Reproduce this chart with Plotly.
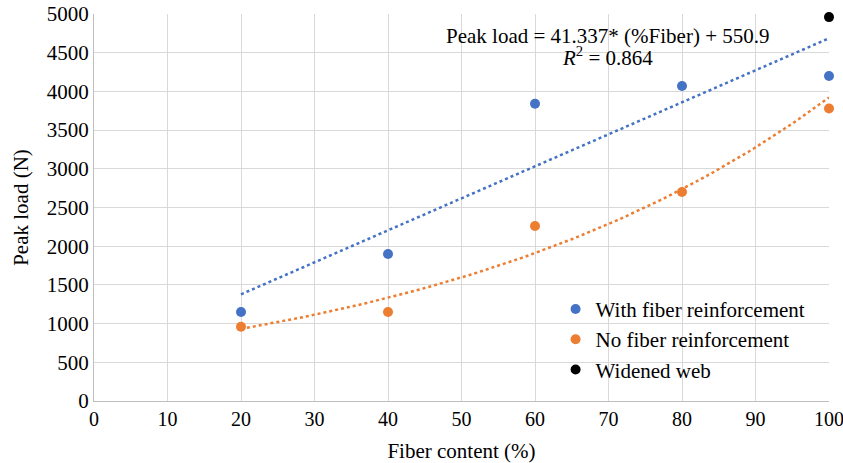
import numpy as np
import plotly.graph_objects as go

fiber = [20, 40, 60, 80, 100]
with_fiber = [1150, 1900, 3840, 4070, 4200]
no_fiber = [960, 1150, 2260, 2700, 3780]
widened_x = [100]
widened_y = [4960]

BLUE = "#4472C4"
ORANGE = "#ED7D31"
FONT = "Liberation Serif"

# trendlines fitted from the data
xs = np.linspace(20, 100, 81)
m, b = np.polyfit(fiber, with_fiber, 1)
lin = m * xs + b
k, c = np.polyfit(fiber, np.log(no_fiber), 1)
expo = np.exp(c + k * xs)

fig = go.Figure()
fig.add_trace(go.Scatter(x=xs, y=lin, mode="lines", showlegend=False,
                         line=dict(color=BLUE, width=2.5, dash="dot"), hoverinfo="skip"))
fig.add_trace(go.Scatter(x=xs, y=expo, mode="lines", showlegend=False,
                         line=dict(color=ORANGE, width=2.5, dash="dot"), hoverinfo="skip"))
fig.add_trace(go.Scatter(x=fiber, y=with_fiber, mode="markers", name="With fiber reinforcement",
                         marker=dict(color=BLUE, size=10), cliponaxis=False))
fig.add_trace(go.Scatter(x=fiber, y=no_fiber, mode="markers", name="No fiber reinforcement",
                         marker=dict(color=ORANGE, size=10), cliponaxis=False))
fig.add_trace(go.Scatter(x=widened_x, y=widened_y, mode="markers", name="Widened web",
                         marker=dict(color="black", size=10), cliponaxis=False))

fig.add_annotation(x=0.699, y=0.943, xref="paper", yref="paper", showarrow=False,
                   xanchor="center", yanchor="middle",
                   text="Peak load = 41.337* (%Fiber) + 550.9",
                   font=dict(family=FONT, size=21, color="black"))
fig.add_annotation(x=0.699, y=0.889, xref="paper", yref="paper", showarrow=False,
                   xanchor="center", yanchor="middle",
                   text="<i>R</i><sup>2</sup> = 0.864",
                   font=dict(family=FONT, size=21, color="black"))

fig.update_layout(
    width=843, height=463,
    margin=dict(l=94, r=14, t=14, b=62),
    paper_bgcolor="white", plot_bgcolor="white",
    font=dict(family=FONT, size=21, color="black"),
    legend=dict(x=0.628, y=0.29, xanchor="left", yanchor="top",
                bgcolor="rgba(0,0,0,0)", font=dict(family=FONT, size=21, color="black"),
                itemwidth=30, tracegroupgap=0),
    xaxis=dict(range=[0, 100], dtick=10, showgrid=True, gridcolor="#d9d9d9",
               showline=True, linecolor="#bfbfbf", zeroline=False, automargin=False,
               ticklabeloverflow="allow",
               title=dict(text="Fiber content (%)", standoff=14,
                          font=dict(family=FONT, size=21, color="black")),
               tickfont=dict(family=FONT, size=20, color="black")),
    yaxis=dict(range=[0, 5000], dtick=500, showgrid=True, gridcolor="#d9d9d9",
               showline=True, linecolor="#bfbfbf", zeroline=False, automargin=False,
               ticklabeloverflow="allow",
               title=dict(text="Peak load (N)", standoff=12,
                          font=dict(family=FONT, size=21, color="black")),
               tickfont=dict(family=FONT, size=21, color="black")),
)

fig.write_html("out.html")
